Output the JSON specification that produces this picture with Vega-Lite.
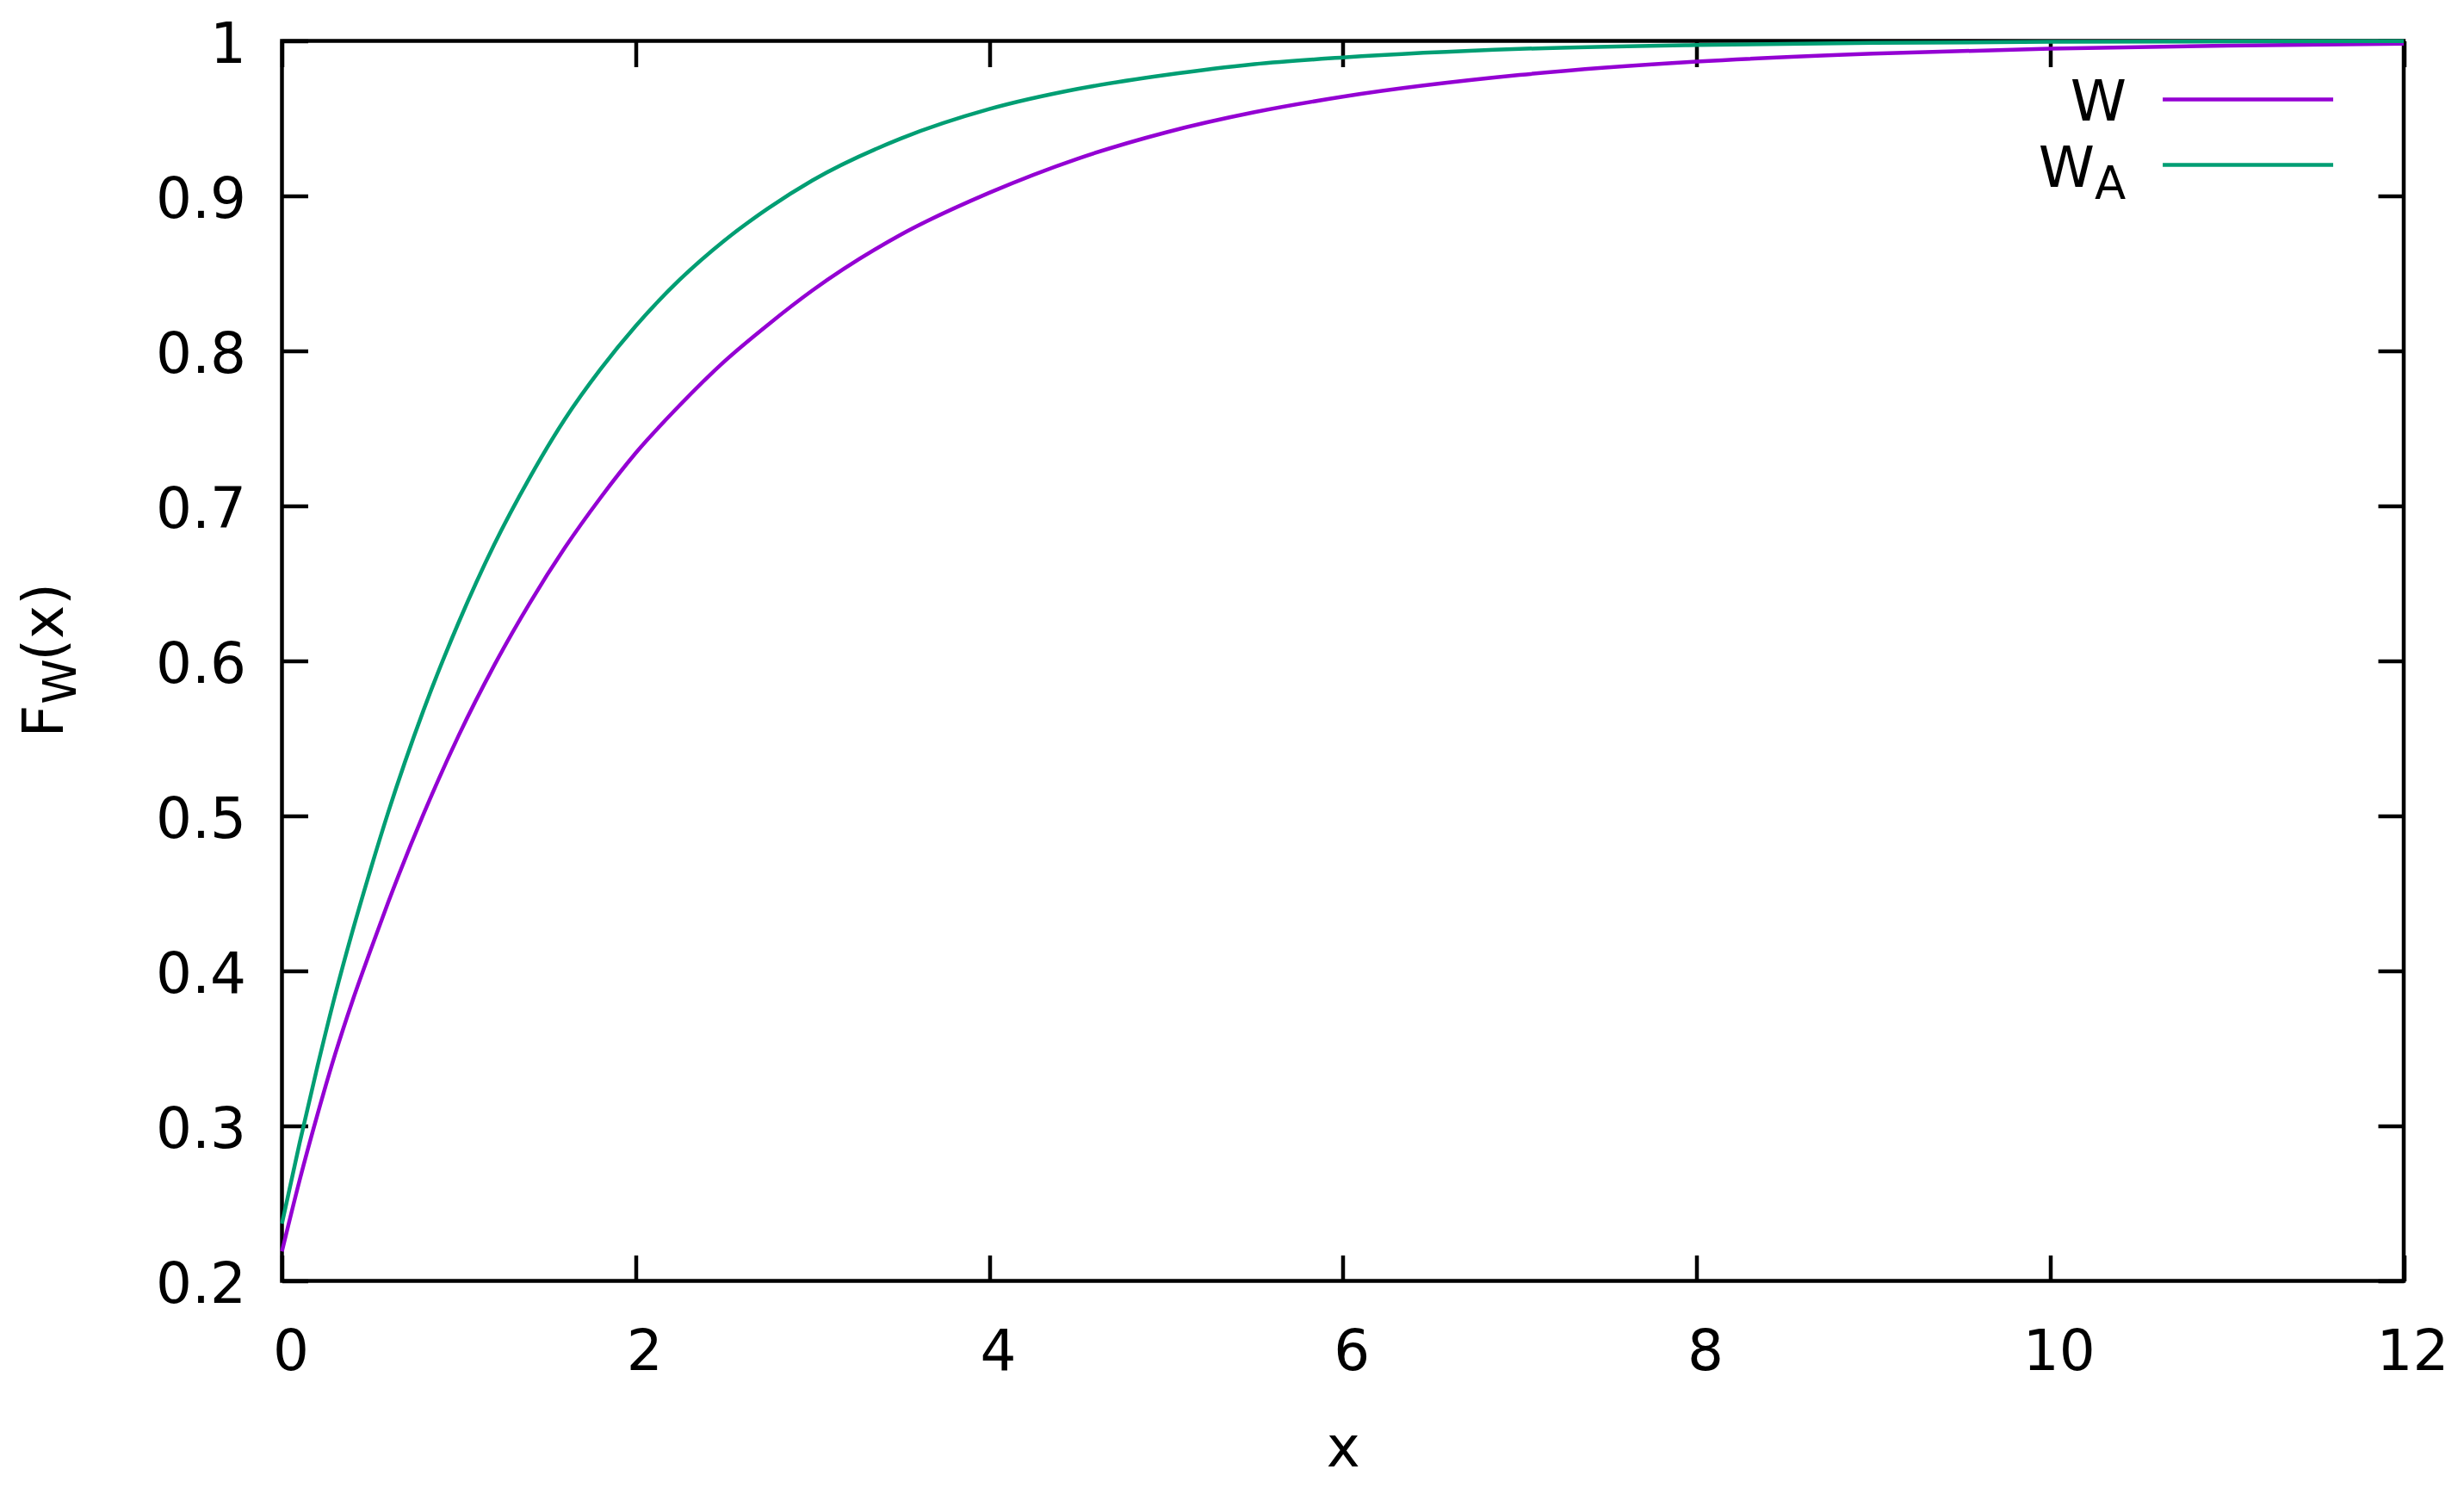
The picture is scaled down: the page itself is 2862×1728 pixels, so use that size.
{
  "$schema": "https://vega.github.io/schema/vega-lite/v6.json",
  "width": 2464.5,
  "height": 1440,
  "autosize": {"type": "none"},
  "padding": {"left": 327.5, "top": 47.5, "right": 70, "bottom": 240.5},
  "background": "white",
  "config": {
    "font": "DejaVu Sans",
    "view": {"stroke": "#000000", "strokeWidth": 4.5},
    "axis": {
      "grid": false,
      "domain": false,
      "tickColor": "#000000",
      "tickWidth": 4.5,
      "tickSize": -30,
      "labelColor": "#000000",
      "labelFont": "DejaVu Sans",
      "labelFontSize": 66,
      "labelFlush": false,
      "labelOverlap": false,
      "titleFont": "DejaVu Sans",
      "titleFontSize": 66,
      "titleFontWeight": "normal",
      "titleColor": "#000000"
    }
  },
  "data": {
    "values": [
      {"series": "W", "x": 0, "F": 0.219},
      {"series": "W", "x": 0.1, "F": 0.265},
      {"series": "W", "x": 0.2, "F": 0.307},
      {"series": "W", "x": 0.3, "F": 0.346},
      {"series": "W", "x": 0.4, "F": 0.381},
      {"series": "W", "x": 0.5, "F": 0.413},
      {"series": "W", "x": 0.6, "F": 0.444},
      {"series": "W", "x": 0.8, "F": 0.501},
      {"series": "W", "x": 1.0, "F": 0.552},
      {"series": "W", "x": 1.2, "F": 0.597},
      {"series": "W", "x": 1.4, "F": 0.637},
      {"series": "W", "x": 1.6, "F": 0.673},
      {"series": "W", "x": 1.8, "F": 0.705},
      {"series": "W", "x": 2.0, "F": 0.734},
      {"series": "W", "x": 2.25, "F": 0.765},
      {"series": "W", "x": 2.5, "F": 0.793},
      {"series": "W", "x": 2.75, "F": 0.817},
      {"series": "W", "x": 3.0, "F": 0.839},
      {"series": "W", "x": 3.5, "F": 0.875},
      {"series": "W", "x": 4.0, "F": 0.902},
      {"series": "W", "x": 4.5, "F": 0.924},
      {"series": "W", "x": 5.0, "F": 0.941},
      {"series": "W", "x": 5.5, "F": 0.954},
      {"series": "W", "x": 6.0, "F": 0.964},
      {"series": "W", "x": 7.0, "F": 0.978},
      {"series": "W", "x": 8.0, "F": 0.9866},
      {"series": "W", "x": 9.0, "F": 0.9918},
      {"series": "W", "x": 10.0, "F": 0.995},
      {"series": "W", "x": 11.0, "F": 0.997},
      {"series": "W", "x": 12.0, "F": 0.9982},
      {"series": "W_A", "x": 0, "F": 0.237},
      {"series": "W_A", "x": 0.1, "F": 0.289},
      {"series": "W_A", "x": 0.2, "F": 0.338},
      {"series": "W_A", "x": 0.3, "F": 0.384},
      {"series": "W_A", "x": 0.4, "F": 0.426},
      {"series": "W_A", "x": 0.5, "F": 0.465},
      {"series": "W_A", "x": 0.6, "F": 0.502},
      {"series": "W_A", "x": 0.8, "F": 0.568},
      {"series": "W_A", "x": 1.0, "F": 0.625},
      {"series": "W_A", "x": 1.2, "F": 0.675},
      {"series": "W_A", "x": 1.4, "F": 0.718},
      {"series": "W_A", "x": 1.6, "F": 0.756},
      {"series": "W_A", "x": 1.8, "F": 0.788},
      {"series": "W_A", "x": 2.0, "F": 0.816},
      {"series": "W_A", "x": 2.25, "F": 0.846},
      {"series": "W_A", "x": 2.5, "F": 0.871},
      {"series": "W_A", "x": 2.75, "F": 0.892},
      {"series": "W_A", "x": 3.0, "F": 0.91},
      {"series": "W_A", "x": 3.5, "F": 0.937},
      {"series": "W_A", "x": 4.0, "F": 0.956},
      {"series": "W_A", "x": 4.5, "F": 0.969},
      {"series": "W_A", "x": 5.0, "F": 0.978},
      {"series": "W_A", "x": 5.5, "F": 0.985},
      {"series": "W_A", "x": 6.0, "F": 0.9893},
      {"series": "W_A", "x": 7.0, "F": 0.9948},
      {"series": "W_A", "x": 8.0, "F": 0.9974},
      {"series": "W_A", "x": 9.0, "F": 0.9987},
      {"series": "W_A", "x": 10.0, "F": 0.9994},
      {"series": "W_A", "x": 12.0, "F": 0.9998}
    ]
  },
  "layer": [
    {
      "transform": [{"filter": "datum.series === 'W'"}],
      "mark": {"type": "line", "strokeWidth": 4.5, "interpolate": "monotone"},
      "encoding": {
        "x": {
          "field": "x", "type": "quantitative",
          "scale": {"domain": [0, 12], "nice": false, "zero": false},
          "axis": {
            "orient": "bottom",
            "values": [0, 2, 4, 6, 8, 10, 12],
            "format": "~g",
            "labelPadding": 132.5,
            "labelBaseline": "alphabetic",
            "labelAlign": "center",
            "labelOffset": 10,
            "title": "x",
            "titleY": 215,
            "titleBaseline": "alphabetic"
          }
        },
        "y": {
          "field": "F", "type": "quantitative",
          "scale": {"domain": [0.2, 1], "nice": false, "zero": false},
          "axis": {
            "orient": "left",
            "values": [0.2, 0.3, 0.4, 0.5, 0.6, 0.7, 0.8, 0.9, 1],
            "format": "~g",
            "labelPadding": 72,
            "labelBaseline": "alphabetic",
            "labelAlign": "right",
            "labelOffset": 24.5,
            "title": null
          }
        },
        "color": {
          "field": "series", "type": "nominal",
          "scale": {"domain": ["W", "W_A"], "range": ["#9400D3", "#009E73"]},
          "legend": null
        }
      }
    },
    {
      "transform": [{"filter": "datum.series === 'W_A'"}],
      "mark": {"type": "line", "strokeWidth": 4.5, "interpolate": "monotone"},
      "encoding": {
        "x": {
          "field": "x", "type": "quantitative",
          "scale": {"domain": [0, 12], "nice": false, "zero": false},
          "axis": {"orient": "top", "values": [0, 2, 4, 6, 8, 10, 12], "labels": false, "title": null}
        },
        "y": {
          "field": "F", "type": "quantitative",
          "scale": {"domain": [0.2, 1], "nice": false, "zero": false},
          "axis": {"orient": "right", "values": [0.2, 0.3, 0.4, 0.5, 0.6, 0.7, 0.8, 0.9, 1], "labels": false, "title": null}
        },
        "color": {
          "field": "series", "type": "nominal",
          "scale": {"domain": ["W", "W_A"], "range": ["#9400D3", "#009E73"]},
          "legend": null
        }
      }
    },
    {
      "data": {"values": [{}]},
      "mark": {"type": "rule", "color": "#9400D3", "strokeWidth": 4.5},
      "encoding": {
        "x": {"datum": 10.637, "type": "quantitative", "scale": {"domain": [0, 12]}, "axis": null},
        "x2": {"datum": 11.601},
        "y": {"datum": 0.9622, "type": "quantitative", "scale": {"domain": [0.2, 1]}, "axis": null}
      }
    },
    {
      "data": {"values": [{}]},
      "mark": {"type": "rule", "color": "#009E73", "strokeWidth": 4.5},
      "encoding": {
        "x": {"datum": 10.637, "type": "quantitative", "scale": {"domain": [0, 12]}, "axis": null},
        "x2": {"datum": 11.601},
        "y": {"datum": 0.92, "type": "quantitative", "scale": {"domain": [0.2, 1]}, "axis": null}
      }
    },
    {
      "data": {"values": [{}]},
      "mark": {"type": "text", "text": "W", "font": "DejaVu Sans", "fontSize": 66, "align": "right", "baseline": "alphabetic", "color": "#000000"},
      "encoding": {
        "x": {"datum": 10.432, "type": "quantitative", "scale": {"domain": [0, 12]}, "axis": null},
        "y": {"datum": 0.9486, "type": "quantitative", "scale": {"domain": [0.2, 1]}, "axis": null}
      }
    },
    {
      "data": {"values": [{}]},
      "mark": {"type": "text", "text": "W", "font": "DejaVu Sans", "fontSize": 66, "align": "right", "baseline": "alphabetic", "color": "#000000"},
      "encoding": {
        "x": {"datum": 10.252, "type": "quantitative", "scale": {"domain": [0, 12]}, "axis": null},
        "y": {"datum": 0.906, "type": "quantitative", "scale": {"domain": [0.2, 1]}, "axis": null}
      }
    },
    {
      "data": {"values": [{}]},
      "mark": {"type": "text", "text": "A", "font": "DejaVu Sans", "fontSize": 53, "align": "left", "baseline": "alphabetic", "color": "#000000"},
      "encoding": {
        "x": {"datum": 10.252, "type": "quantitative", "scale": {"domain": [0, 12]}, "axis": null},
        "y": {"datum": 0.8982, "type": "quantitative", "scale": {"domain": [0.2, 1]}, "axis": null}
      }
    },
    {
      "data": {"values": [{}]},
      "mark": {"type": "text", "text": "F", "font": "DejaVu Sans", "fontSize": 66, "align": "left", "baseline": "alphabetic", "angle": 270, "color": "#000000"},
      "encoding": {
        "x": {"datum": -1.2377, "type": "quantitative", "scale": {"domain": [0, 12]}, "axis": null},
        "y": {"datum": 0.5506, "type": "quantitative", "scale": {"domain": [0.2, 1]}, "axis": null}
      }
    },
    {
      "data": {"values": [{}]},
      "mark": {"type": "text", "text": "W", "font": "DejaVu Sans", "fontSize": 53, "align": "left", "baseline": "alphabetic", "angle": 270, "color": "#000000"},
      "encoding": {
        "x": {"datum": -1.1647, "type": "quantitative", "scale": {"domain": [0, 12]}, "axis": null},
        "y": {"datum": 0.5721, "type": "quantitative", "scale": {"domain": [0.2, 1]}, "axis": null}
      }
    },
    {
      "data": {"values": [{}]},
      "mark": {"type": "text", "text": "(x)", "font": "DejaVu Sans", "fontSize": 66, "align": "left", "baseline": "alphabetic", "angle": 270, "color": "#000000"},
      "encoding": {
        "x": {"datum": -1.2377, "type": "quantitative", "scale": {"domain": [0, 12]}, "axis": null},
        "y": {"datum": 0.5999, "type": "quantitative", "scale": {"domain": [0.2, 1]}, "axis": null}
      }
    }
  ],
  "resolve": {"axis": {"x": "independent", "y": "independent"}}
}
